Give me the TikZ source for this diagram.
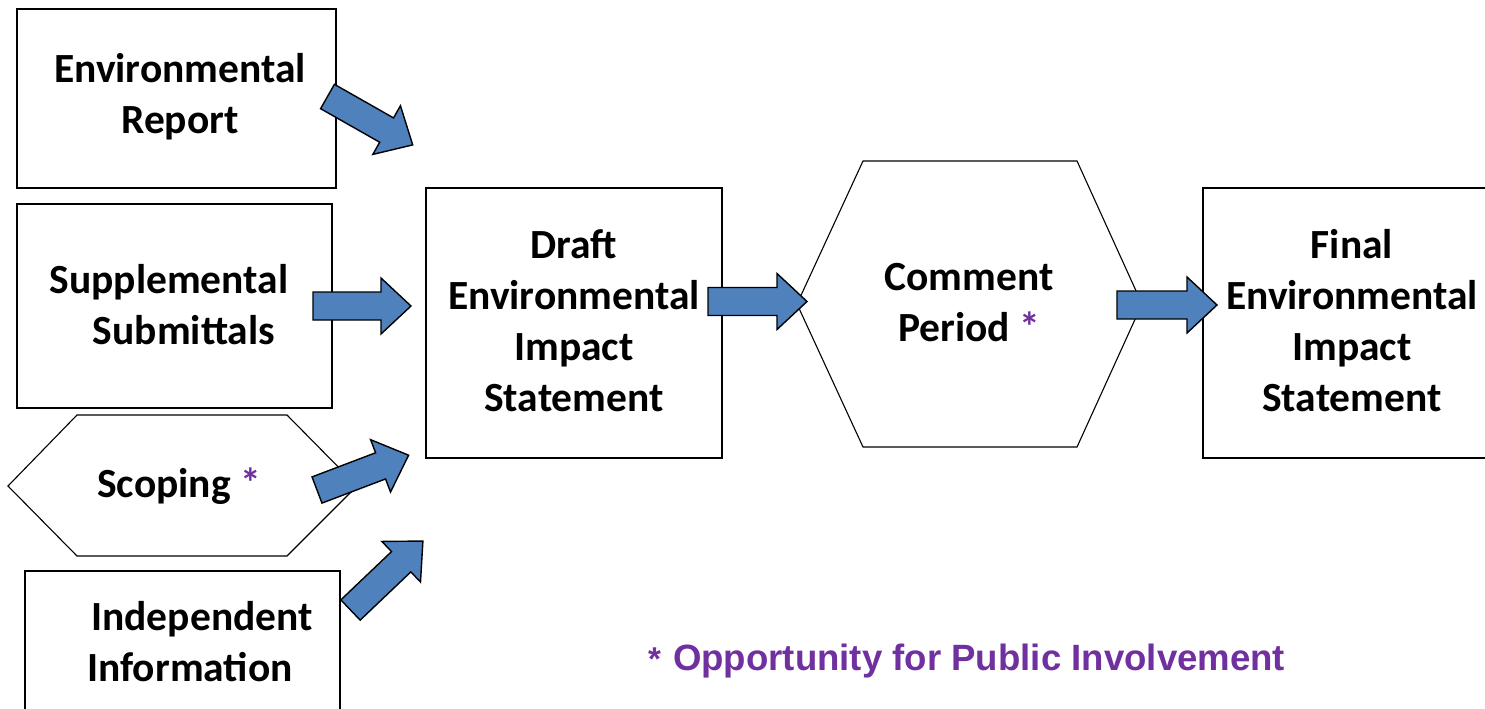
\documentclass[tikz,border=0pt]{standalone}
\usepackage{fontspec}
\setmainfont{Carlito}
\newfontfamily\arialfont{Liberation Sans}
\definecolor{oppurple}{HTML}{7030A0}
\definecolor{arrowblue}{HTML}{4F81BD}
\tikzset{
  boxshape/.style={draw=black, line width=1.3pt, fill=white, inner sep=0pt},
  hexline/.style={draw=black, line width=1.1pt},
  txt/.style={font=\fontsize{41.5}{51}\selectfont\bfseries, align=center, inner sep=0pt},
  barrow/.style={draw=black, line width=1.4pt, fill=arrowblue, line join=miter},
}
\newcommand{\blockarrow}[4]{% x y angle length
  \draw[barrow, shift={(#1,#2)}, rotate=#3]
    (0,-14) -- ({#4-30},-14) -- ({#4-30},-28) -- (#4,0) -- ({#4-30},28) -- ({#4-30},14) -- (0,14) -- cycle;}
\begin{document}
\begin{tikzpicture}[x=1pt,y=-1pt]
\useasboundingbox (0,0) rectangle (1485,709);
% boxes
\node[boxshape, minimum width=319, minimum height=179] (er) at (176.5,98.5) {};
\node[txt] (ert) at (180,97) {Environmental\\Report};
\node[boxshape, minimum width=315, minimum height=204] (ss) at (174.5,306) {};
\node[txt] (sst) at (169,305) {Supplemental\\\hspace*{30pt}Submittals};
\node[boxshape, minimum width=315, minimum height=144] (ii) at (182.5,643) {};
\node[txt] (iit) at (190,642) {\hspace*{24pt}Independent\\Information};
\node[boxshape, minimum width=296, minimum height=270] (deis) at (574,323) {};
\node[txt] (deist) at (574,321) {Draft\\Environmental\\Impact\\Statement};
\node[boxshape, minimum width=298, minimum height=270] (feis) at (1352,323) {};
\node[txt] (feist) at (1352,321) {Final\\Environmental\\Impact\\Statement};
% hexagons
\coordinate (sc1) at (8,486);
\coordinate (sc2) at (77,415);
\coordinate (sc3) at (287,415);
\coordinate (sc4) at (357,486);
\coordinate (sc5) at (287,556);
\coordinate (sc6) at (77,556);
\draw[hexline] (sc1) -- (sc2) -- (sc3) -- (sc4) -- (sc5) -- (sc6) -- cycle;
\node[txt] (scop) at (179,486) {Scoping \textcolor{oppurple}{*}};
\coordinate (cp1) at (797,304);
\coordinate (cp2) at (863,161);
\coordinate (cp3) at (1077,161);
\coordinate (cp4) at (1142,304);
\coordinate (cp5) at (1077,447);
\coordinate (cp6) at (863,447);
\draw[hexline] (cp1) -- (cp2) -- (cp3) -- (cp4) -- (cp5) -- (cp6) -- cycle;
\node[txt] (cpt) at (969,303) {Comment\\Period \textcolor{oppurple}{*}};
% block arrows
\blockarrow{327.5}{96.5}{-29.6}{98}
\blockarrow{313}{306}{0}{98}
\blockarrow{317}{490}{20.8}{98}
\blockarrow{350.5}{610}{43.6}{100}
\blockarrow{708}{301.5}{0}{99}
\blockarrow{1117}{305}{0}{100}
% legend
\node[anchor=base west, inner sep=0pt, text=oppurple, font=\arialfont\bfseries] (legend) at (648,670)
  {{\fontsize{33}{36}\selectfont *}\hspace{12pt}{\fontsize{36.6}{40}\selectfont Opportunity for Public Involvement}};
\end{tikzpicture}
\end{document}
